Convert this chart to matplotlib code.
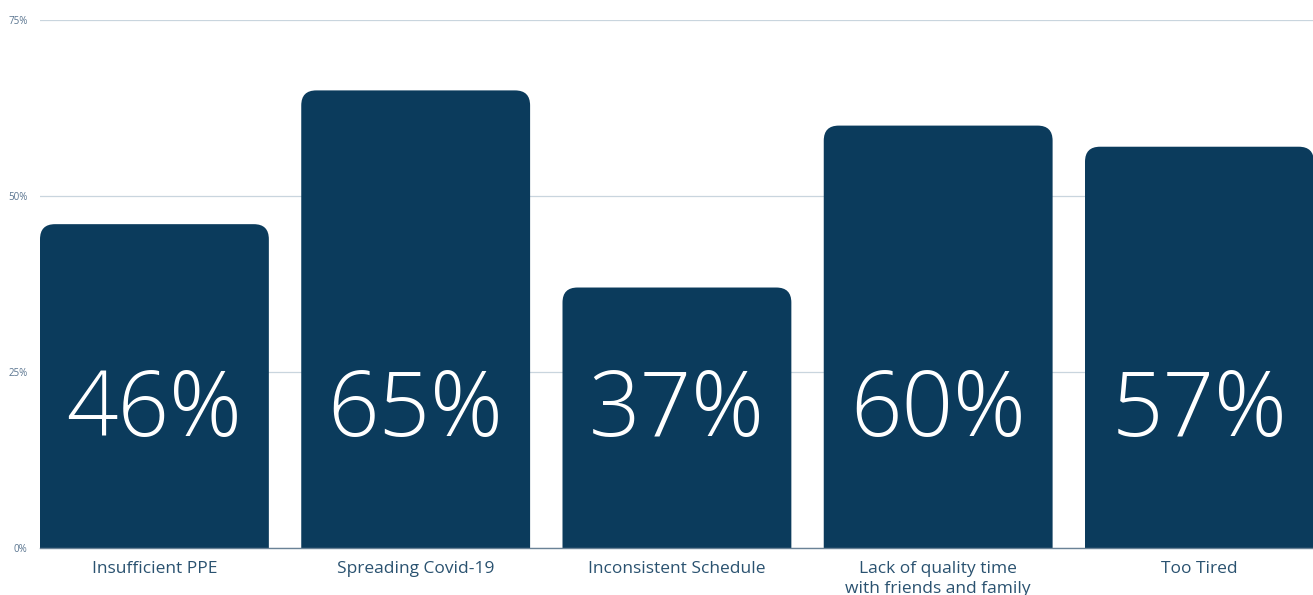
import matplotlib.pyplot as plt
import numpy as np
from matplotlib.patches import FancyBboxPatch

categories = ['Insufficient PPE', 'Spreading Covid-19', 'Inconsistent Schedule',
              'Lack of quality time\nwith friends and family', 'Too Tired']
values = [46, 65, 37, 60, 57]
yticks = [0, 25, 50, 75]
ytick_labels = ['0%', '25%', '50%', '75%']

bar_color = '#0b3b5c'
text_color = '#2a5270'

fig = plt.figure(figsize=(13.13, 5.95), dpi=100)
ax = fig.add_axes([40 / 1313, 47 / 595, 1306.25 / 1313, 528 / 595])

width = 0.876
ind = np.arange(len(values))
centers = ind + width / 2

ax.set_xlim(0, len(values))
ax.set_ylim(0, 75)

# rounded top corners: radius in pixels -> data units
radius_px = 15
px_per_x = fig.get_figwidth() * fig.dpi * ax.get_position().width / len(values)
px_per_y = fig.get_figheight() * fig.dpi * ax.get_position().height / 75
rx = radius_px / px_per_x
ry = radius_px / px_per_y

for x0, v in zip(ind, values):
    patch = FancyBboxPatch((x0, -ry * 2), width, v + ry * 2,
                           boxstyle='round,pad=0,rounding_size=%f' % rx,
                           mutation_aspect=ry / rx,
                           facecolor=bar_color, edgecolor='none', zorder=3)
    ax.add_patch(patch)
    ax.text(x0 + width / 2, 19.3, '%d%%' % v, ha='center', va='center',
            color='white', fontsize=65, fontfamily='Open Sans', fontweight='light', zorder=4)

ax.set_yticks(yticks)
ax.set_yticklabels(ytick_labels, fontsize=7, color='#5a7590', fontfamily='Open Sans')
ax.set_xticks(centers)
ax.set_xticklabels(categories, fontsize=12.5, color=text_color, fontfamily='Open Sans',
                   linespacing=1.3)
ax.tick_params(axis='both', length=0)
ax.tick_params(axis='x', pad=9.5)
ax.tick_params(axis='y', pad=9)
ax.grid(axis='y', color='#c9d5de', linewidth=0.9, zorder=0)
ax.set_axisbelow(True)
for s in ['top', 'right', 'left']:
    ax.spines[s].set_visible(False)
ax.spines['bottom'].set_color('#6a8296')
ax.spines['bottom'].set_linewidth(1.0)
ax.spines['bottom'].set_zorder(5)

fig.savefig('out.png', dpi=100)
